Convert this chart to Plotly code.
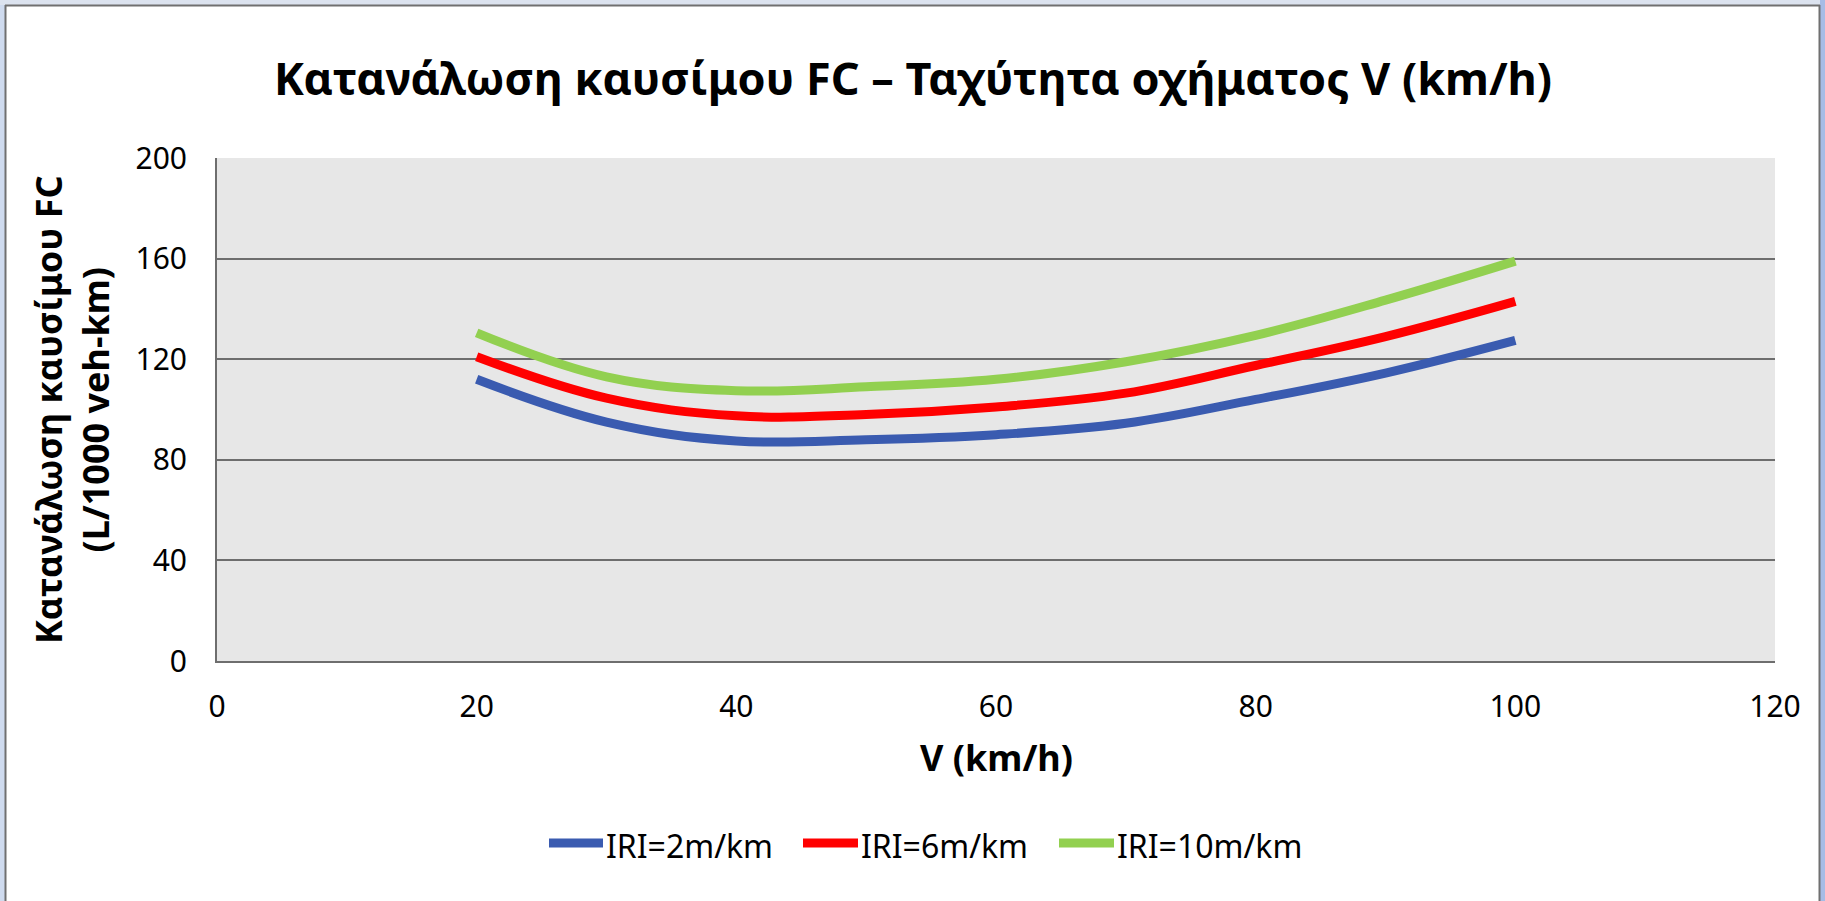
import plotly.graph_objects as go

# Speed (km/h) and fuel consumption (L/1000 veh-km) for three roughness levels
speed = [20, 30, 40, 50, 60, 70, 80, 90, 100]
fc_iri2 = [112, 95, 87.5, 88, 90, 94.5, 104, 114.5, 127.5]
fc_iri6 = [121, 104.5, 97.5, 98, 101, 106.5, 117.5, 129, 143]
fc_iri10 = [130.5, 113, 107.5, 109, 112, 119, 129.5, 143.5, 159]

series_names = ["IRI=2m/km", "IRI=6m/km", "IRI=10m/km"]
series_colors = ["#3A5BB0", "#FF0000", "#92D050"]
x_ticks = [0, 20, 40, 60, 80, 100, 120]
y_ticks = [0, 40, 80, 120, 160, 200]

W, H = 1825, 901
L, R, T, B = 217, 50, 158, 240
PW, PH = W - L - R, H - T - B

FONT = "Noto Sans"

fig = go.Figure()
for name, ys, col in zip(series_names, [fc_iri2, fc_iri6, fc_iri10], series_colors):
    fig.add_trace(go.Scatter(
        x=speed, y=ys, name=name, mode="lines", showlegend=False,
        line=dict(color=col, width=9, shape="spline", smoothing=1.1),
    ))


def px_x(X):
    return (X - L) / PW


def px_y(Y):
    return (H - B - Y) / PH


# outer frame of the chart
shapes = [
    dict(type="rect", xref="paper", yref="paper", x0=px_x(-5), x1=px_x(5),
         y0=px_y(-5), y1=px_y(910), fillcolor="#CFDBEF", line=dict(width=0), layer="above"),
    dict(type="rect", xref="paper", yref="paper", x0=px_x(-5), x1=px_x(1830),
         y0=px_y(-5), y1=px_y(5), fillcolor="#DCE3EF", line=dict(width=0), layer="above"),
    dict(type="rect", xref="paper", yref="paper", x0=px_x(1820), x1=px_x(1830),
         y0=px_y(-5), y1=px_y(910), fillcolor="#A6BCE6", line=dict(width=0), layer="above"),
    dict(type="line", xref="paper", yref="paper", x0=px_x(5.5), x1=px_x(5.5),
         y0=px_y(5), y1=px_y(910), line=dict(color="#707070", width=2), layer="above"),
    dict(type="line", xref="paper", yref="paper", x0=px_x(5), x1=px_x(1820),
         y0=px_y(5.5), y1=px_y(5.5), line=dict(color="#707070", width=2), layer="above"),
    dict(type="line", xref="paper", yref="paper", x0=px_x(1819.5), x1=px_x(1819.5),
         y0=px_y(5), y1=px_y(910), line=dict(color="#707070", width=2), layer="above"),
]

annotations = [
    dict(text="<b>V (km/h)</b>", xref="paper", yref="paper", x=px_x(996), y=px_y(757),
         xanchor="center", yanchor="middle", showarrow=False,
         font=dict(family=FONT, size=36, color="#000000")),
    dict(text="<b>Κατανάλωση καυσίμου FC<br>(L/1000 veh-km)</b>", xref="paper", yref="paper",
         x=px_x(72), y=px_y(410), xanchor="center", yanchor="middle", showarrow=False,
         textangle=-90, font=dict(family=FONT, size=36, color="#000000")),
]

# legend row below the x-axis title: a short line swatch followed by the label
legend_line_x = [(549, 603), (803, 858), (1059, 1114)]
legend_y = 843
for name, col, (x0, x1) in zip(series_names, series_colors, legend_line_x):
    shapes.append(dict(type="line", xref="paper", yref="paper",
                       x0=px_x(x0), x1=px_x(x1), y0=px_y(legend_y), y1=px_y(legend_y),
                       line=dict(color=col, width=9), layer="above"))
    annotations.append(dict(text=name, xref="paper", yref="paper",
                            x=px_x(x1 + 1), y=px_y(legend_y + 2), xanchor="left",
                            yanchor="middle", showarrow=False,
                            font=dict(family=FONT, size=32, color="#000000")))

fig.update_layout(
    width=W, height=H,
    margin=dict(l=L, r=R, t=T, b=B, autoexpand=False),
    paper_bgcolor="#FFFFFF",
    plot_bgcolor="#E7E7E7",
    title=dict(text="<b>Κατανάλωση καυσίμου FC – Ταχύτητα οχήματος V (km/h)</b>",
               x=913 / W, y=1 - 79 / H, xref="container", yref="container",
               xanchor="center", yanchor="middle",
               font=dict(family=FONT, size=45, color="#000000")),
    xaxis=dict(range=[0, 120], tickvals=x_ticks, showgrid=False, zeroline=False,
               showline=True, linecolor="#6E6E6E", linewidth=2, ticks="",
               ticklabelstandoff=18,
               tickfont=dict(family=FONT, size=30, color="#000000")),
    yaxis=dict(range=[0, 200], tickvals=y_ticks, showgrid=True, gridcolor="#6E6E6E",
               gridwidth=2, zeroline=False, showline=True, linecolor="#6E6E6E",
               linewidth=2, ticks="", ticklabelstandoff=22,
               tickfont=dict(family=FONT, size=30, color="#000000")),
    showlegend=False,
    shapes=shapes,
    annotations=annotations,
)

fig.write_html("out.html")
